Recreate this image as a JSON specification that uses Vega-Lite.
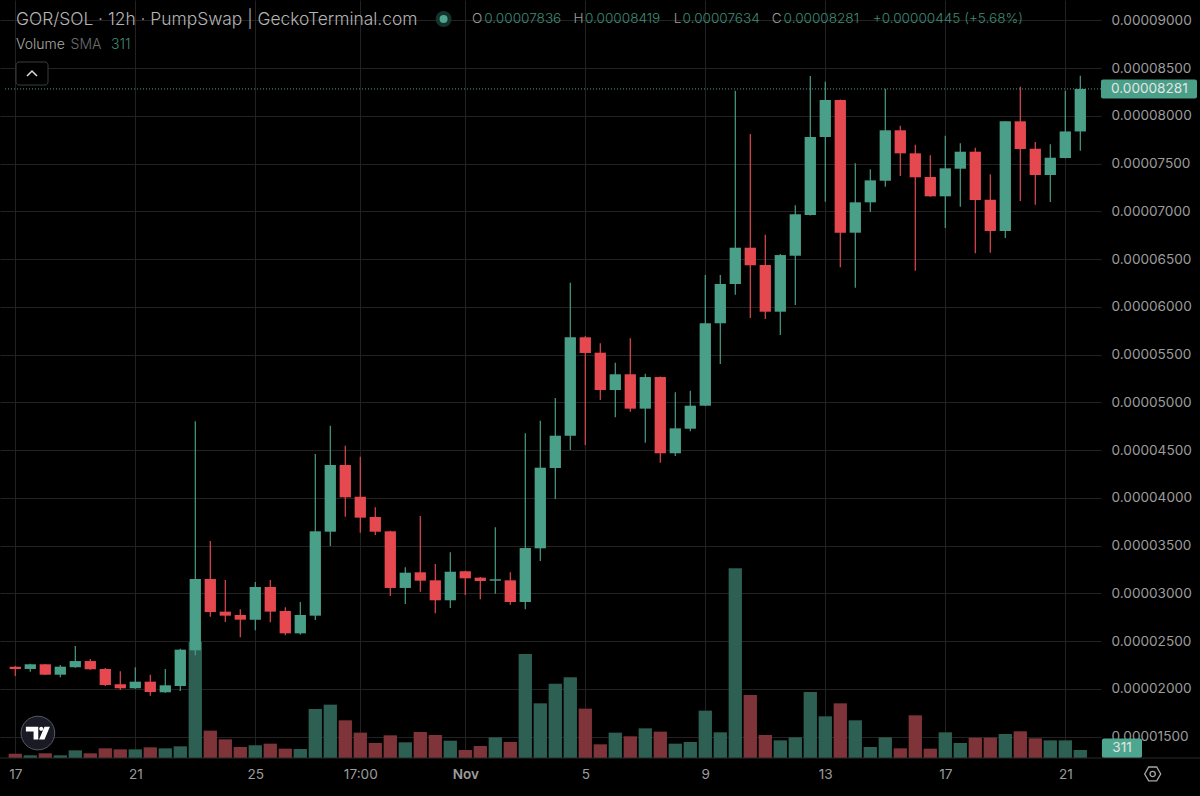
{"$schema":"https://vega.github.io/schema/vega-lite/v6.json","width":1101,"height":758,"autosize":{"type":"none"},"padding":{"left":0,"top":0,"right":99,"bottom":38},"background":"#000000","title":{"text":"GOR/SOL · 12h · PumpSwap | GeckoTerminal.com","anchor":"start","frame":"group","offset":-28,"dx":16,"fontSize":17.4,"fontWeight":300,"color":"#b4b4b4","font":"Inter"},"config":{"font":"Inter","view":{"stroke":null},"axis":{"title":null},"scale":{"continuousPadding":0}},"datasets":{"candles":[
{"date":"2025-10-17T00:00:00Z","open":0.00002233,"high":0.0000224,"low":0.00002135,"close":0.00002209,"volume":169},
{"date":"2025-10-17T12:00:00Z","open":0.00002209,"high":0.00002264,"low":0.0000218,"close":0.00002258,"volume":104},
{"date":"2025-10-18T00:00:00Z","open":0.00002258,"high":0.00002261,"low":0.00002146,"close":0.00002149,"volume":182},
{"date":"2025-10-18T12:00:00Z","open":0.00002149,"high":0.00002251,"low":0.00002122,"close":0.00002233,"volume":104},
{"date":"2025-10-19T00:00:00Z","open":0.00002227,"high":0.0000245,"low":0.00002223,"close":0.00002292,"volume":298},
{"date":"2025-10-19T12:00:00Z","open":0.00002292,"high":0.00002313,"low":0.00002201,"close":0.00002206,"volume":182},
{"date":"2025-10-20T00:00:00Z","open":0.00002209,"high":0.00002219,"low":0.00002031,"close":0.00002041,"volume":376},
{"date":"2025-10-20T12:00:00Z","open":0.00002049,"high":0.00002185,"low":0.00001989,"close":0.00002007,"volume":337},
{"date":"2025-10-21T00:00:00Z","open":0.00002007,"high":0.00002227,"low":0.00002003,"close":0.00002076,"volume":337},
{"date":"2025-10-21T12:00:00Z","open":0.00002076,"high":0.00002149,"low":0.00001929,"close":0.00001968,"volume":415},
{"date":"2025-10-22T00:00:00Z","open":0.00001965,"high":0.00002209,"low":0.00001961,"close":0.00002038,"volume":376},
{"date":"2025-10-22T12:00:00Z","open":0.00002031,"high":0.00002421,"low":0.00001978,"close":0.00002411,"volume":454},
{"date":"2025-10-23T00:00:00Z","open":0.00002404,"high":0.00004802,"low":0.00002352,"close":0.00003151,"volume":4514},
{"date":"2025-10-23T12:00:00Z","open":0.00003151,"high":0.00003549,"low":0.00002756,"close":0.00002805,"volume":1064},
{"date":"2025-10-24T00:00:00Z","open":0.00002809,"high":0.0000314,"low":0.00002701,"close":0.00002767,"volume":726},
{"date":"2025-10-24T12:00:00Z","open":0.00002774,"high":0.00002834,"low":0.00002541,"close":0.00002725,"volume":428},
{"date":"2025-10-25T00:00:00Z","open":0.00002725,"high":0.00003119,"low":0.00002614,"close":0.00003067,"volume":493},
{"date":"2025-10-25T12:00:00Z","open":0.00003067,"high":0.0000314,"low":0.00002698,"close":0.00002809,"volume":558},
{"date":"2025-10-26T00:00:00Z","open":0.00002816,"high":0.00002855,"low":0.00002561,"close":0.00002582,"volume":363},
{"date":"2025-10-26T12:00:00Z","open":0.00002582,"high":0.0000291,"low":0.00002568,"close":0.00002774,"volume":350},
{"date":"2025-10-27T00:00:00Z","open":0.00002767,"high":0.00004459,"low":0.00002722,"close":0.0000365,"volume":1907},
{"date":"2025-10-27T12:00:00Z","open":0.00003646,"high":0.00004756,"low":0.00003496,"close":0.00004344,"volume":2075},
{"date":"2025-10-28T00:00:00Z","open":0.00004344,"high":0.00004546,"low":0.00003803,"close":0.00004006,"volume":1466},
{"date":"2025-10-28T12:00:00Z","open":0.00004012,"high":0.00004431,"low":0.00003635,"close":0.00003793,"volume":986},
{"date":"2025-10-29T00:00:00Z","open":0.000038,"high":0.00003901,"low":0.00003611,"close":0.00003646,"volume":584},
{"date":"2025-10-29T12:00:00Z","open":0.0000365,"high":0.00003656,"low":0.00002973,"close":0.00003057,"volume":882},
{"date":"2025-10-30T00:00:00Z","open":0.00003057,"high":0.00003273,"low":0.00002889,"close":0.00003217,"volume":610},
{"date":"2025-10-30T12:00:00Z","open":0.00003221,"high":0.0000381,"low":0.00003018,"close":0.00003133,"volume":1012},
{"date":"2025-10-31T00:00:00Z","open":0.00003137,"high":0.00003308,"low":0.00002792,"close":0.00002928,"volume":895},
{"date":"2025-10-31T12:00:00Z","open":0.00002928,"high":0.0000343,"low":0.00002847,"close":0.00003227,"volume":674},
{"date":"2025-11-01T00:00:00Z","open":0.00003232,"high":0.00003238,"low":0.00002983,"close":0.00003158,"volume":311},
{"date":"2025-11-01T12:00:00Z","open":0.00003165,"high":0.00003172,"low":0.00002938,"close":0.0000313,"volume":467},
{"date":"2025-11-02T00:00:00Z","open":0.00003133,"high":0.00003692,"low":0.00002997,"close":0.00003148,"volume":804},
{"date":"2025-11-02T12:00:00Z","open":0.00003137,"high":0.00003221,"low":0.00002882,"close":0.0000291,"volume":623},
{"date":"2025-11-03T00:00:00Z","open":0.0000291,"high":0.00004676,"low":0.00002834,"close":0.00003475,"volume":4047},
{"date":"2025-11-03T12:00:00Z","open":0.00003472,"high":0.00004808,"low":0.00003339,"close":0.00004316,"volume":2127},
{"date":"2025-11-04T00:00:00Z","open":0.00004313,"high":0.00005046,"low":0.00003988,"close":0.00004651,"volume":2892},
{"date":"2025-11-04T12:00:00Z","open":0.00004651,"high":0.00006253,"low":0.00004501,"close":0.00005681,"volume":3139},
{"date":"2025-11-05T00:00:00Z","open":0.00005681,"high":0.00005695,"low":0.00004554,"close":0.00005517,"volume":1920},
{"date":"2025-11-05T12:00:00Z","open":0.0000552,"high":0.00005618,"low":0.00005025,"close":0.00005129,"volume":532},
{"date":"2025-11-06T00:00:00Z","open":0.00005129,"high":0.00005415,"low":0.00004843,"close":0.00005294,"volume":986},
{"date":"2025-11-06T12:00:00Z","open":0.00005294,"high":0.00005671,"low":0.00004902,"close":0.00004934,"volume":843},
{"date":"2025-11-07T00:00:00Z","open":0.00004934,"high":0.000053,"low":0.00004578,"close":0.00005265,"volume":1154},
{"date":"2025-11-07T12:00:00Z","open":0.00005265,"high":0.0000527,"low":0.00004368,"close":0.00004467,"volume":1025},
{"date":"2025-11-08T00:00:00Z","open":0.00004467,"high":0.00005105,"low":0.00004438,"close":0.00004728,"volume":558},
{"date":"2025-11-08T12:00:00Z","open":0.00004724,"high":0.00005122,"low":0.00004697,"close":0.00004965,"volume":623},
{"date":"2025-11-09T00:00:00Z","open":0.00004965,"high":0.00006333,"low":0.00004962,"close":0.00005828,"volume":1842},
{"date":"2025-11-09T12:00:00Z","open":0.00005828,"high":0.00006333,"low":0.00005401,"close":0.00006239,"volume":999},
{"date":"2025-11-10T00:00:00Z","open":0.00006239,"high":0.00008262,"low":0.00006127,"close":0.00006619,"volume":7380},
{"date":"2025-11-10T12:00:00Z","open":0.00006619,"high":0.00007809,"low":0.00005883,"close":0.00006435,"volume":2451},
{"date":"2025-11-11T00:00:00Z","open":0.00006438,"high":0.00006755,"low":0.00005873,"close":0.00005949,"volume":895},
{"date":"2025-11-11T12:00:00Z","open":0.00005949,"high":0.00006553,"low":0.00005705,"close":0.00006542,"volume":687},
{"date":"2025-11-12T00:00:00Z","open":0.00006535,"high":0.00007063,"low":0.00006019,"close":0.00006969,"volume":804},
{"date":"2025-11-12T12:00:00Z","open":0.00006961,"high":0.00008416,"low":0.00006955,"close":0.00007778,"volume":2568},
{"date":"2025-11-13T00:00:00Z","open":0.00007778,"high":0.00008357,"low":0.000071,"close":0.00008165,"volume":1621},
{"date":"2025-11-13T12:00:00Z","open":0.00008165,"high":0.0000817,"low":0.00006414,"close":0.00006776,"volume":2127},
{"date":"2025-11-14T00:00:00Z","open":0.00006776,"high":0.00007502,"low":0.000062,"close":0.00007094,"volume":1466},
{"date":"2025-11-14T12:00:00Z","open":0.00007094,"high":0.0000744,"low":0.00006993,"close":0.00007324,"volume":428},
{"date":"2025-11-15T00:00:00Z","open":0.0000732,"high":0.00008283,"low":0.00007257,"close":0.00007848,"volume":804},
{"date":"2025-11-15T12:00:00Z","open":0.00007848,"high":0.00007896,"low":0.00007369,"close":0.00007607,"volume":376},
{"date":"2025-11-16T00:00:00Z","open":0.00007607,"high":0.00007697,"low":0.00006378,"close":0.00007356,"volume":1660},
{"date":"2025-11-16T12:00:00Z","open":0.00007359,"high":0.00007586,"low":0.00007153,"close":0.00007157,"volume":363},
{"date":"2025-11-17T00:00:00Z","open":0.00007157,"high":0.00007791,"low":0.00006825,"close":0.0000745,"volume":999},
{"date":"2025-11-17T12:00:00Z","open":0.00007446,"high":0.00007712,"low":0.00007048,"close":0.00007624,"volume":584},
{"date":"2025-11-18T00:00:00Z","open":0.00007624,"high":0.00007666,"low":0.0000656,"close":0.00007118,"volume":791},
{"date":"2025-11-18T12:00:00Z","open":0.00007121,"high":0.00007387,"low":0.00006567,"close":0.00006794,"volume":791},
{"date":"2025-11-19T00:00:00Z","open":0.00006794,"high":0.00007945,"low":0.0000672,"close":0.00007942,"volume":934},
{"date":"2025-11-19T12:00:00Z","open":0.00007942,"high":0.00008304,"low":0.00007108,"close":0.00007652,"volume":1038},
{"date":"2025-11-20T00:00:00Z","open":0.00007655,"high":0.00007725,"low":0.00007069,"close":0.0000738,"volume":765},
{"date":"2025-11-20T12:00:00Z","open":0.0000738,"high":0.00007701,"low":0.00007097,"close":0.00007561,"volume":687},
{"date":"2025-11-21T00:00:00Z","open":0.00007558,"high":0.00008262,"low":0.00007555,"close":0.00007836,"volume":687},
{"date":"2025-11-21T12:00:00Z","open":0.00007836,"high":0.00008419,"low":0.00007634,"close":0.00008281,"volume":311}
],"latest":[{"open":0.00007836,"high":0.00008419,"low":0.00007634,"close":0.00008281,"volume":311,"change":"+0.00000445 (+5.68%)"}]},
"data":{"name":"candles"},
"layer":[
{"encoding":{"y":{"type":"quantitative","scale":{"domain":[0,29486],"nice":false,"zero":true,"padding":0},"axis":null}},"layer":[
{"mark":{"type":"bar","size":13.3,"orient":"vertical"},"encoding":{"x":{"field":"date","type":"temporal","title":null,"scale":{"type":"utc","nice":false,"padding":0,"domain":[{"year":2025,"month":10,"date":16,"hours":11,"minutes":46,"utc":true},{"year":2025,"month":11,"date":22,"hours":4,"minutes":34,"utc":true}]},"axis":{"title":null,"grid":true,"gridColor":"#222222","gridWidth":1,"domain":false,"ticks":false,"labelColor":"#9c9c9c","labelFontSize":13.6,"labelPadding":9,"labelFlush":false,"labelOverlap":false,"labelExpr":"utchours(datum.value)==12 ? '17:00' : utcdate(datum.value)==1 ? 'Nov' : utcdate(datum.value)","labelFontWeight":{"condition":{"test":"utcdate(datum.value)==1 && utchours(datum.value)==0","value":600},"value":400},"values":[{"year":2025,"month":10,"date":17,"utc":true},{"year":2025,"month":10,"date":21,"utc":true},{"year":2025,"month":10,"date":25,"utc":true},{"year":2025,"month":10,"date":28,"hours":12,"utc":true},{"year":2025,"month":11,"date":1,"utc":true},{"year":2025,"month":11,"date":5,"utc":true},{"year":2025,"month":11,"date":9,"utc":true},{"year":2025,"month":11,"date":13,"utc":true},{"year":2025,"month":11,"date":17,"utc":true},{"year":2025,"month":11,"date":21,"utc":true}]}},"y":{"field":"volume","type":"quantitative","stack":null},"color":{"condition":{"test":"datum.close>=datum.open","value":"#2d5f52"},"value":"#7f343a"}}},
{"data":{"name":"latest"},"mark":{"type":"bar","orient":"horizontal","color":"#4ea68f","cornerRadius":2},"encoding":{"x":{"datum":{"year":2025,"month":11,"date":22,"hours":5,"minutes":20,"utc":true},"type":"temporal"},"x2":{"datum":{"year":2025,"month":11,"date":23,"hours":13,"minutes":22,"utc":true}},"y":{"datum":0,"type":"quantitative"},"y2":{"datum":760}}},
{"data":{"name":"latest"},"mark":{"type":"text","align":"center","baseline":"middle","fontSize":13.6,"color":"#e4e4e4","yOffset":-2},"encoding":{"x":{"datum":{"year":2025,"month":11,"date":22,"hours":21,"minutes":22,"utc":true},"type":"temporal"},"y":{"field":"volume","type":"quantitative"},"text":{"field":"volume","type":"quantitative"}}}
]},
{"encoding":{"y":{"type":"quantitative","scale":{"domain":[0.00001277,0.00009212],"nice":false,"zero":false,"padding":0},"axis":{"title":null,"orient":"right","grid":true,"gridColor":"#222222","gridWidth":1,"domain":false,"ticks":false,"labelColor":"#9c9c9c","labelFontSize":13.6,"labelPadding":10,"labelAlign":"left","labelBaseline":"middle","labelOverlap":false,"format":".8f","values":[0.000015,0.00002,0.000025,0.00003,0.000035,0.00004,0.000045,0.00005,0.000055,0.00006,0.000065,0.00007,0.000075,0.00008,0.000085,0.00009]}}},"layer":[
{"mark":{"type":"rule","strokeWidth":1.2},"encoding":{"x":{"field":"date","type":"temporal"},"y":{"field":"high"},"y2":{"field":"low"},"color":{"condition":{"test":"datum.close>=datum.open","value":"#4a9f88"},"value":"#e5484f"}}},
{"mark":{"type":"bar","size":11.3,"orient":"vertical"},"encoding":{"x":{"field":"date","type":"temporal"},"y":{"field":"open"},"y2":{"field":"close"},"color":{"condition":{"test":"datum.close>=datum.open","value":"#4a9f88"},"value":"#e5484f"}}},
{"data":{"name":"latest"},"mark":{"type":"rule","strokeDash":[1,2],"strokeWidth":1,"color":"#4a9f88"},"encoding":{"x":{"datum":{"year":2025,"month":10,"date":16,"hours":15,"minutes":46,"utc":true},"type":"temporal"},"x2":{"datum":{"year":2025,"month":11,"date":22,"hours":4,"minutes":34,"utc":true}},"y":{"field":"close"}}},
{"data":{"name":"latest"},"mark":{"type":"bar","orient":"horizontal","size":19,"color":"#4a9f88","cornerRadius":2},"encoding":{"x":{"datum":{"year":2025,"month":11,"date":22,"hours":4,"minutes":34,"utc":true},"type":"temporal"},"x2":{"datum":{"year":2025,"month":11,"date":25,"hours":9,"minutes":22,"utc":true}},"y":{"field":"close"}}},
{"data":{"name":"latest"},"mark":{"type":"text","align":"left","baseline":"middle","fontSize":13.6,"color":"#e4e4e4"},"encoding":{"x":{"datum":{"year":2025,"month":11,"date":22,"hours":12,"minutes":34,"utc":true},"type":"temporal"},"y":{"field":"close"},"text":{"field":"close","type":"quantitative","format":".8f"}}},
{"data":{"name":"latest"},"mark":{"type":"point","shape":"circle","filled":true,"size":254,"color":"#15332c","opacity":1},"encoding":{"x":{"datum":{"year":2025,"month":10,"date":31,"hours":6,"minutes":38,"utc":true},"type":"temporal"},"y":{"datum":0.00009013,"type":"quantitative"}}},
{"data":{"name":"latest"},"mark":{"type":"point","shape":"circle","filled":true,"size":64,"color":"#4ea68f","opacity":1},"encoding":{"x":{"datum":{"year":2025,"month":10,"date":31,"hours":6,"minutes":38,"utc":true},"type":"temporal"},"y":{"datum":0.00009013,"type":"quantitative"}}},
{"data":{"name":"latest"},"mark":{"type":"text","text":"O","align":"left","baseline":"middle","fontSize":13.6,"fontWeight":300,"color":"#9c9c9c"},"encoding":{"x":{"datum":{"year":2025,"month":11,"date":1,"hours":5,"minutes":22,"utc":true},"type":"temporal"},"y":{"datum":0.00009013,"type":"quantitative"}}},
{"data":{"name":"latest"},"mark":{"type":"text","align":"left","baseline":"middle","fontSize":13.6,"fontWeight":300,"color":"#3f8a76"},"encoding":{"x":{"datum":{"year":2025,"month":11,"date":1,"hours":15,"minutes":12,"utc":true},"type":"temporal"},"y":{"datum":0.00009013,"type":"quantitative"},"text":{"field":"open","type":"quantitative","format":".8f"}}},
{"data":{"name":"latest"},"mark":{"type":"text","text":"H","align":"left","baseline":"middle","fontSize":13.6,"fontWeight":300,"color":"#9c9c9c"},"encoding":{"x":{"datum":{"year":2025,"month":11,"date":4,"hours":14,"minutes":34,"utc":true},"type":"temporal"},"y":{"datum":0.00009013,"type":"quantitative"}}},
{"data":{"name":"latest"},"mark":{"type":"text","align":"left","baseline":"middle","fontSize":13.6,"fontWeight":300,"color":"#3f8a76"},"encoding":{"x":{"datum":{"year":2025,"month":11,"date":4,"hours":23,"minutes":46,"utc":true},"type":"temporal"},"y":{"datum":0.00009013,"type":"quantitative"},"text":{"field":"high","type":"quantitative","format":".8f"}}},
{"data":{"name":"latest"},"mark":{"type":"text","text":"L","align":"left","baseline":"middle","fontSize":13.6,"fontWeight":300,"color":"#9c9c9c"},"encoding":{"x":{"datum":{"year":2025,"month":11,"date":7,"hours":22,"minutes":48,"utc":true},"type":"temporal"},"y":{"datum":0.00009013,"type":"quantitative"}}},
{"data":{"name":"latest"},"mark":{"type":"text","align":"left","baseline":"middle","fontSize":13.6,"fontWeight":300,"color":"#3f8a76"},"encoding":{"x":{"datum":{"year":2025,"month":11,"date":8,"hours":5,"minutes":50,"utc":true},"type":"temporal"},"y":{"datum":0.00009013,"type":"quantitative"},"text":{"field":"low","type":"quantitative","format":".8f"}}},
{"data":{"name":"latest"},"mark":{"type":"text","text":"C","align":"left","baseline":"middle","fontSize":13.6,"fontWeight":300,"color":"#9c9c9c"},"encoding":{"x":{"datum":{"year":2025,"month":11,"date":11,"hours":5,"minutes":7,"utc":true},"type":"temporal"},"y":{"datum":0.00009013,"type":"quantitative"}}},
{"data":{"name":"latest"},"mark":{"type":"text","align":"left","baseline":"middle","fontSize":13.6,"fontWeight":300,"color":"#3f8a76"},"encoding":{"x":{"datum":{"year":2025,"month":11,"date":11,"hours":14,"minutes":38,"utc":true},"type":"temporal"},"y":{"datum":0.00009013,"type":"quantitative"},"text":{"field":"close","type":"quantitative","format":".8f"}}},
{"data":{"name":"latest"},"mark":{"type":"text","align":"left","baseline":"middle","fontSize":13.6,"fontWeight":300,"color":"#3f8a76"},"encoding":{"x":{"datum":{"year":2025,"month":11,"date":14,"hours":14,"utc":true},"type":"temporal"},"y":{"datum":0.00009013,"type":"quantitative"},"text":{"field":"change","type":"nominal"}}},
{"data":{"name":"latest"},"mark":{"type":"text","text":"Volume","align":"left","baseline":"middle","fontSize":14,"fontWeight":300,"color":"#a8a8a8"},"encoding":{"x":{"datum":{"year":2025,"month":10,"date":17,"minutes":34,"utc":true},"type":"temporal"},"y":{"datum":0.00008741,"type":"quantitative"}}},
{"data":{"name":"latest"},"mark":{"type":"text","text":"SMA","align":"left","baseline":"middle","fontSize":14,"fontWeight":300,"color":"#6c6c6c"},"encoding":{"x":{"datum":{"year":2025,"month":10,"date":18,"hours":20,"minutes":14,"utc":true},"type":"temporal"},"y":{"datum":0.00008741,"type":"quantitative"}}},
{"data":{"name":"latest"},"mark":{"type":"text","align":"left","baseline":"middle","fontSize":14,"fontWeight":300,"color":"#3f8a76"},"encoding":{"x":{"datum":{"year":2025,"month":10,"date":20,"hours":4,"minutes":34,"utc":true},"type":"temporal"},"y":{"datum":0.00008741,"type":"quantitative"},"text":{"field":"volume","type":"quantitative"}}},
{"data":{"name":"latest"},"mark":{"type":"rect","fill":"#000000","stroke":"#3c3c3c","strokeWidth":1,"cornerRadius":3},"encoding":{"x":{"datum":{"year":2025,"month":10,"date":17,"minutes":34,"utc":true},"type":"temporal"},"x2":{"datum":{"year":2025,"month":10,"date":18,"hours":2,"minutes":10,"utc":true}},"y":{"datum":0.00008563,"type":"quantitative"},"y2":{"datum":0.00008322}}},
{"data":{"name":"latest"},"mark":{"type":"point","shape":"M-1,0.5L0,-0.5L1,0.5","filled":false,"size":100,"stroke":"#d8d8d8","strokeWidth":1.6,"opacity":1},"encoding":{"x":{"datum":{"year":2025,"month":10,"date":17,"hours":13,"minutes":22,"utc":true},"type":"temporal"},"y":{"datum":0.00008442,"type":"quantitative"}}},
{"data":{"name":"latest"},"mark":{"type":"point","shape":"circle","filled":true,"size":1134,"fill":"#191a24","stroke":"#565a66","strokeWidth":1,"opacity":1},"encoding":{"x":{"datum":{"year":2025,"month":10,"date":17,"hours":18,"minutes":5,"utc":true},"type":"temporal"},"y":{"datum":0.00001538,"type":"quantitative"}}},
{"data":{"name":"latest"},"mark":{"type":"point","shape":"M-1,-0.53L0.03,-0.53L0.03,0.53L-0.36,0.53L-0.36,-0.14L-1,-0.14Z M0.11,-0.36A0.17,0.17 0 1 0 0.45,-0.36A0.17,0.17 0 1 0 0.11,-0.36Z M0.55,-0.53L1,-0.53L0.55,0.53L0.1,0.53Z","filled":true,"size":576,"fill":"#ffffff","strokeWidth":0,"opacity":1},"encoding":{"x":{"datum":{"year":2025,"month":10,"date":17,"hours":18,"minutes":5,"utc":true},"type":"temporal"},"y":{"datum":0.00001538,"type":"quantitative"}}},
{"data":{"name":"latest"},"mark":{"type":"rule","color":"#2a2a2a","strokeWidth":1},"encoding":{"x":{"datum":{"year":2025,"month":10,"date":16,"hours":11,"minutes":46,"utc":true},"type":"temporal"},"x2":{"datum":{"year":2025,"month":11,"date":25,"hours":20,"utc":true}},"y":{"datum":0.00001277,"type":"quantitative"}}},
{"data":{"name":"latest"},"mark":{"type":"point","shape":"M-1,0L-0.5,-0.87L0.5,-0.87L1,0L0.5,0.87L-0.5,0.87Z","filled":false,"size":256,"stroke":"#a8a8a8","strokeWidth":1.3,"opacity":1},"encoding":{"x":{"datum":{"year":2025,"month":11,"date":23,"hours":21,"minutes":55,"utc":true},"type":"temporal"},"y":{"datum":0.0000111,"type":"quantitative"}}},
{"data":{"name":"latest"},"mark":{"type":"point","shape":"circle","filled":false,"size":28,"stroke":"#a8a8a8","strokeWidth":1.3,"opacity":1},"encoding":{"x":{"datum":{"year":2025,"month":11,"date":23,"hours":21,"minutes":55,"utc":true},"type":"temporal"},"y":{"datum":0.0000111,"type":"quantitative"}}}
]}
],
"resolve":{"scale":{"y":"independent"},"axis":{"y":"independent"}}}
